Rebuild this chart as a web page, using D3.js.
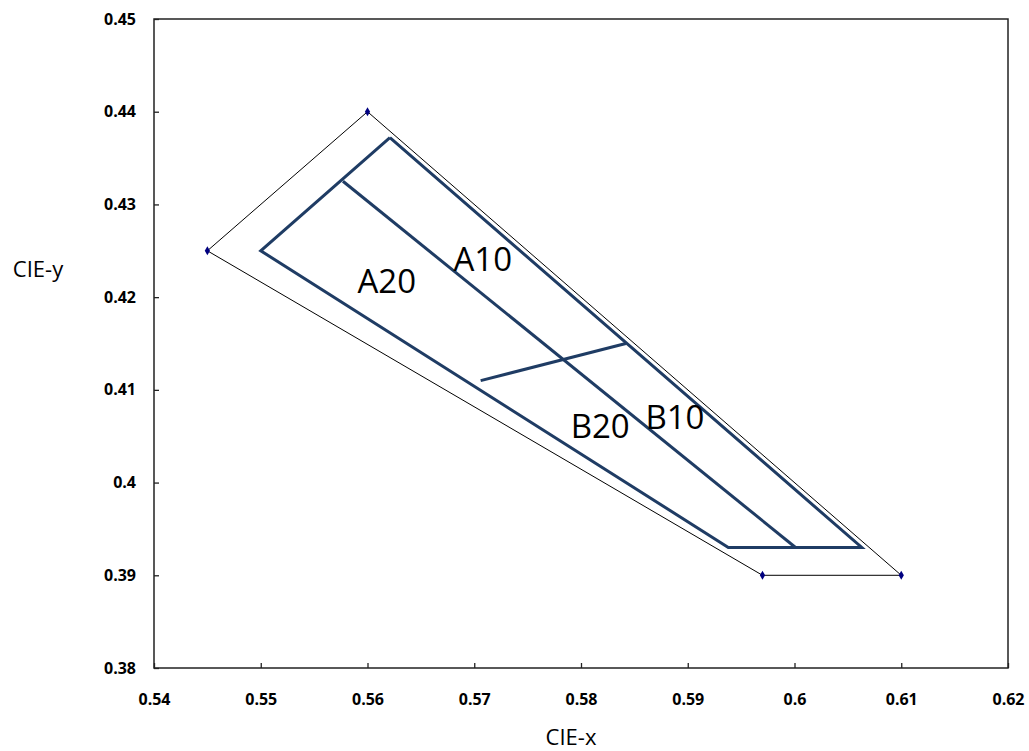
<!DOCTYPE html>
<html><head><meta charset="utf-8">
<script src="https://cdn.jsdelivr.net/npm/d3@7"></script>
<style>body{margin:0;background:#fff}svg{display:block}</style>
</head><body>
<div id="chart"></div>
<script>
// Outer boundary (thin black with diamond markers)
const outerX = [0.56, 0.545, 0.597, 0.61, 0.56];
const outerY = [0.44, 0.425, 0.39, 0.39, 0.44];
// Inner region boundary (thick navy)
const innerX = [0.5621, 0.55, 0.5938, 0.6063, 0.5621];
const innerY = [0.4372, 0.425, 0.3930, 0.3930, 0.4372];
// Dividing line between 10 and 20
const midX = [0.5577, 0.6001];
const midY = [0.4325, 0.3930];
// Dividing line between A and B
const crossX = [0.5706, 0.5842];
const crossY = [0.4110, 0.4150];
// Region labels
const labelNames = ["A10", "A20", "B20", "B10"];
const labelX = [0.5708, 0.5618, 0.5818, 0.5888];
const labelY = [0.4242, 0.4218, 0.4062, 0.4071];
// Ticks
const xTicks = [0.54, 0.55, 0.56, 0.57, 0.58, 0.59, 0.6, 0.61, 0.62];
const yTicks = [0.38, 0.39, 0.4, 0.41, 0.42, 0.43, 0.44, 0.45];

const W = 1029, H = 751;
const m = {left: 154, right: 1008, top: 19, bottom: 668};
const svg = d3.select("#chart").append("svg").attr("width", W).attr("height", H);
const x = d3.scaleLinear().domain([0.54, 0.62]).range([m.left, m.right]);
const y = d3.scaleLinear().domain([0.38, 0.45]).range([m.bottom, m.top]);

// frame
svg.append("rect").attr("x", m.left).attr("y", m.top)
  .attr("width", m.right - m.left).attr("height", m.bottom - m.top)
  .attr("fill", "none").attr("stroke", "#222").attr("stroke-width", 1.5);

const fmt = d => String(+d.toFixed(2));
const xAxis = svg.append("g").attr("transform", `translate(0,${m.bottom})`)
  .call(d3.axisBottom(x).tickValues(xTicks).tickSizeInner(-5).tickSizeOuter(0).tickPadding(26)
    .tickFormat(fmt));
xAxis.select(".domain").remove();
xAxis.selectAll("line").attr("stroke", "#222").attr("stroke-width", 1.3);
xAxis.selectAll("text").attr("font-family", "'Open Sans', sans-serif").attr("font-weight", "bold")
  .attr("font-size", 16).attr("fill", "#000");

const yAxis = svg.append("g").attr("transform", `translate(${m.left},0)`)
  .call(d3.axisLeft(y).tickValues(yTicks).tickSizeInner(-5).tickSizeOuter(0).tickPadding(18)
    .tickFormat(fmt));
yAxis.select(".domain").remove();
yAxis.selectAll("line").attr("stroke", "#222").attr("stroke-width", 1.3);
yAxis.selectAll("text").attr("font-family", "'Open Sans', sans-serif").attr("font-weight", "bold")
  .attr("font-size", 16).attr("fill", "#000");

// axis titles
svg.append("text").attr("x", 571).attr("y", 745)
  .attr("text-anchor", "middle").attr("font-family", "'Open Sans', sans-serif")
  .attr("font-size", 22).text("CIE-x");
svg.append("text").attr("x", 38).attr("y", 277)
  .attr("text-anchor", "middle").attr("font-family", "'Open Sans', sans-serif")
  .attr("font-size", 22).text("CIE-y");

const line = d3.line().x(d => x(d[0])).y(d => y(d[1]));
const zip = (a, b) => a.map((v, i) => [v, b[i]]);

const outer = zip(outerX, outerY);
svg.append("path").attr("d", line(outer)).attr("fill", "none")
  .attr("stroke", "#000").attr("stroke-width", 1);
svg.selectAll(".mk").data(outer.slice(0, 4)).join("path")
  .attr("transform", d => `translate(${x(d[0])},${y(d[1])})`)
  .attr("d", d3.symbol(d3.symbolDiamond, 24)).attr("fill", "#000080");

const navy = "#1f3c64";
[zip(innerX, innerY), zip(midX, midY), zip(crossX, crossY)].forEach(pts => {
  svg.append("path").attr("d", line(pts)).attr("fill", "none")
    .attr("stroke", navy).attr("stroke-width", 3).attr("stroke-linejoin", "miter");
});

svg.selectAll(".lbl").data(labelNames).join("text")
  .attr("x", (d, i) => x(labelX[i])).attr("y", (d, i) => y(labelY[i]))
  .attr("text-anchor", "middle").attr("dominant-baseline", "central")
  .attr("font-family", "'Open Sans', sans-serif").attr("font-size", 33).attr("fill", "#000")
  .text(d => d);
</script>
</body></html>
